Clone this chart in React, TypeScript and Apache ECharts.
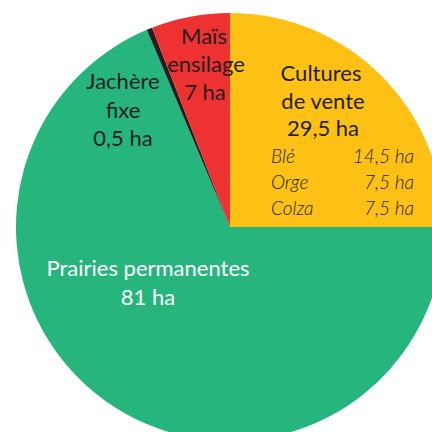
import React, { useEffect, useRef } from "react";
import * as echarts from "echarts";

const categories = ["Cultures de vente", "Prairies permanentes", "Jachère fixe", "Maïs ensilage"];
const values = [29.5, 81, 0.5, 7];
const colors = ["#FCC114", "#27B57E", "#231F20", "#EE3231"];
const subCrops = ["Blé", "Orge", "Colza"];
const subValues = ["14,5 ha", "7,5 ha", "7,5 ha"];

const FONT = "Lato";
const DARK = "#231F20";

export default function App() {
  const ref = useRef<HTMLDivElement>(null);
  useEffect(() => {
    document.body.style.margin = "0";
    const chart = echarts.init(ref.current!, undefined, { renderer: "svg" });
    const fmt = (v: number) => String(v).replace(".", ",") + " ha";
    const txt = (text: string, x: number, y: number, opts: any = {}) => ({
      type: "text",
      x,
      y,
      style: {
        text,
        fill: opts.fill || DARK,
        font: `${opts.italic ? "italic " : ""}${opts.weight || 400} ${opts.size || 22}px ${FONT}`,
        textAlign: opts.align || "center",
        textVerticalAlign: "middle",
      },
      z: 10,
    });
    const graphics: any[] = [
      txt("Maïs", 204, 35),
      txt("ensilage", 206, 63),
      txt(fmt(values[3]), 205, 91),
      txt("Jachère", 123, 80),
      txt("fixe", 123, 109),
      txt(fmt(values[2]), 123, 137),
      txt("Cultures", 321, 72),
      txt("de vente", 323, 100),
      txt(fmt(values[0]), 323, 127),
      txt("Prairies permanentes", 148, 267, { fill: "#ffffff" }),
      txt(fmt(values[1]), 148, 296, { fill: "#ffffff" }),
    ];
    subCrops.forEach((c, i) => {
      graphics.push(txt(c, 271, 155 + i * 26, { italic: true, size: 19, weight: 300, align: "left" }));
      graphics.push(txt(subValues[i], 414, 155 + i * 26, { italic: true, size: 19, weight: 300, align: "right" }));
    });
    chart.setOption({
      animation: false,
      series: [
        {
          type: "pie",
          center: [230, 227],
          radius: 214,
          startAngle: 90,
          clockwise: true,
          label: { show: false },
          labelLine: { show: false },
          emphasis: { disabled: true },
          itemStyle: { borderWidth: 0 },
          data: categories.map((name, i) => ({
            name,
            value: values[i],
            itemStyle: { color: colors[i] },
          })),
        },
      ],
      graphic: graphics,
    });
    return () => chart.dispose();
  }, []);
  return <div ref={ref} style={{ width: 432, height: 432 }} />;
}
